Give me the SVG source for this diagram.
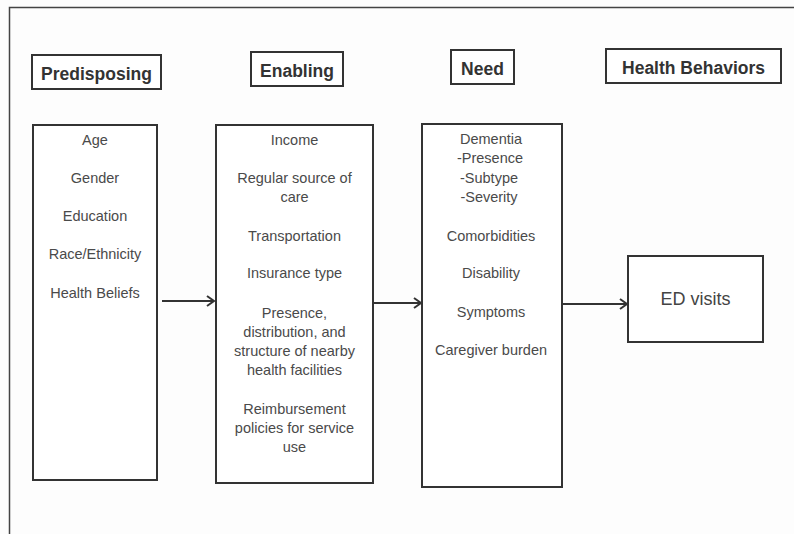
<svg xmlns="http://www.w3.org/2000/svg" width="794" height="534" viewBox="0 0 794 534">
<defs>
<style>
.box{fill:#fff;stroke:#333;stroke-width:2}
.hd{font-family:"Liberation Sans",Arial,sans-serif;font-weight:bold;font-size:17.5px;fill:#333;text-anchor:middle}
.tx{font-family:"Liberation Sans",Arial,sans-serif;font-size:14.5px;fill:#4a4a4a;text-anchor:middle}
.ed{font-family:"Liberation Sans",Arial,sans-serif;font-size:18px;fill:#444;text-anchor:middle}
.conn{stroke:#333;stroke-width:2;fill:none}
</style>
<marker id="arr" markerWidth="12" markerHeight="12" refX="9" refY="6" orient="auto" markerUnits="userSpaceOnUse">
<path d="M2,1 L9,6 L2,11" fill="none" stroke="#333" stroke-width="2"/>
</marker>
</defs>
<rect x="0" y="0" width="794" height="534" fill="#fdfdfd"/>
<path d="M9.5,534 L9.5,7.5 L794,7.5" fill="none" stroke="#444" stroke-width="1.5"/>
<g id="hdr-predisposing"><rect class="box" x="32" y="55" width="129" height="34"/><text class="hd" x="96.5" y="80">Predisposing</text></g>
<g id="hdr-enabling"><rect class="box" x="251" y="52" width="92" height="34"/><text class="hd" x="297" y="77">Enabling</text></g>
<g id="hdr-need"><rect class="box" x="451" y="50" width="63" height="34"/><text class="hd" x="482.5" y="75">Need</text></g>
<g id="hdr-health"><rect class="box" x="606" y="49" width="175" height="34"/><text class="hd" x="693.5" y="74">Health Behaviors</text></g>
<g id="predisposing">
<rect class="box" x="33" y="125" width="124" height="355"/>
<text class="tx" x="95" y="145">Age</text>
<text class="tx" x="95" y="183">Gender</text>
<text class="tx" x="95" y="221">Education</text>
<text class="tx" x="95" y="259">Race/Ethnicity</text>
<text class="tx" x="95" y="298">Health Beliefs</text>
</g>
<g id="enabling">
<rect class="box" x="216" y="125" width="157" height="358"/>
<text class="tx" x="294.5" y="145">Income</text>
<text class="tx" x="294.5" y="183">Regular source of</text>
<text class="tx" x="294.5" y="202">care</text>
<text class="tx" x="294.5" y="241">Transportation</text>
<text class="tx" x="294.5" y="278">Insurance type</text>
<text class="tx" x="294.5" y="318">Presence,</text>
<text class="tx" x="294.5" y="337">distribution, and</text>
<text class="tx" x="294.5" y="356">structure of nearby</text>
<text class="tx" x="294.5" y="375">health facilities</text>
<text class="tx" x="294.5" y="414">Reimbursement</text>
<text class="tx" x="294.5" y="433">policies for service</text>
<text class="tx" x="294.5" y="452">use</text>
</g>
<g id="need">
<rect class="box" x="422" y="124" width="140" height="363"/>
<text class="tx" x="491" y="144">Dementia</text>
<text class="tx" x="490" y="163">-Presence</text>
<text class="tx" x="489" y="183">-Subtype</text>
<text class="tx" x="489" y="202">-Severity</text>
<text class="tx" x="491" y="241">Comorbidities</text>
<text class="tx" x="491" y="278">Disability</text>
<text class="tx" x="491" y="317">Symptoms</text>
<text class="tx" x="491" y="355">Caregiver burden</text>
</g>
<g id="ed-visits">
<rect class="box" x="628" y="256" width="135" height="86"/>
<text class="ed" x="695.5" y="305">ED visits</text>
</g>
<g id="connectors">
<line class="conn" x1="162" y1="301" x2="214" y2="301" marker-end="url(#arr)"/>
<line class="conn" x1="373" y1="303" x2="421" y2="303" marker-end="url(#arr)"/>
<line class="conn" x1="562" y1="304" x2="627" y2="304" marker-end="url(#arr)"/>
</g>
</svg>
